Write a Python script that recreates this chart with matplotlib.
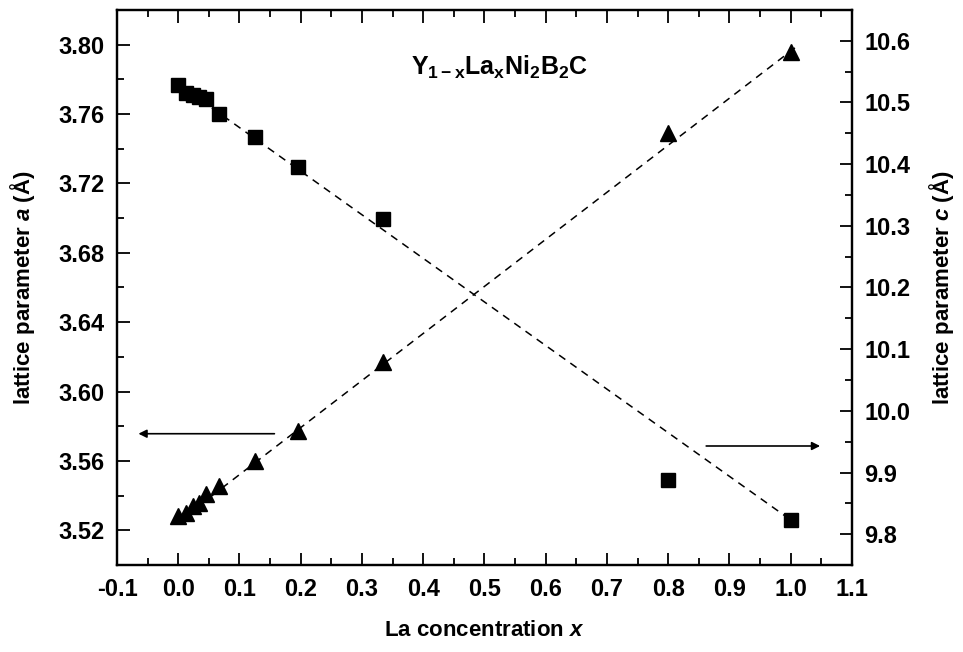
import matplotlib
matplotlib.use("Agg")
import matplotlib.pyplot as plt
from matplotlib.ticker import MultipleLocator


# La concentration x for each sample
x_sq = [0.0, 0.012, 0.024, 0.034, 0.045, 0.067, 0.125, 0.195, 0.335, 0.8, 1.0]
c_sq = [10.528, 10.515, 10.512, 10.509, 10.506, 10.481, 10.444, 10.395, 10.311, 9.888, 9.823]

x_tri = [0.0, 0.012, 0.024, 0.034, 0.045, 0.067, 0.125, 0.195, 0.335, 0.8, 1.0]
a_tri = [3.528, 3.530, 3.534, 3.536, 3.541, 3.5455, 3.560, 3.577, 3.617, 3.749, 3.796]

# dashed linear fits (end points)
fit_x = [0.0, 1.01]
a_fit = [3.525, 3.799]
c_fit = [10.530, 9.816]

plt.rcParams["font.family"] = ["Liberation Sans", "DejaVu Sans"]
plt.rcParams["font.weight"] = "bold"
plt.rcParams["axes.labelweight"] = "bold"
plt.rcParams["font.size"] = 16
plt.rcParams["mathtext.fontset"] = "custom"
plt.rcParams["mathtext.rm"] = "Liberation Sans:bold"
plt.rcParams["mathtext.bf"] = "Liberation Sans:bold"
plt.rcParams["mathtext.it"] = "Liberation Sans:bold:italic"

fig = plt.figure(figsize=(9.63, 6.52), dpi=100)
ax = fig.add_axes([0.1215, 0.1334, 0.7632, 0.8513])
ax2 = ax.twinx()

# a on the left axis (triangles), c on the right axis (squares)
ax.plot(fit_x, a_fit, ls=(0, (5, 4)), color="black", lw=1.1)
ax.plot(x_tri, a_tri, "^", color="black", ms=12, ls="none")
ax2.plot(fit_x, c_fit, ls=(0, (5, 4)), color="black", lw=1.1)
ax2.plot(x_sq, c_sq, "s", color="black", ms=10, ls="none")

ax.set_xlim(-0.1, 1.1)
ax.set_ylim(3.50, 3.82)
ax2.set_ylim(9.75, 10.65)

ax.xaxis.set_major_locator(MultipleLocator(0.1))
ax.xaxis.set_minor_locator(MultipleLocator(0.05))
ax.yaxis.set_major_locator(MultipleLocator(0.04))
ax.yaxis.set_minor_locator(MultipleLocator(0.02))
ax2.yaxis.set_major_locator(MultipleLocator(0.1))
ax2.yaxis.set_minor_locator(MultipleLocator(0.05))
ax.yaxis.set_major_formatter(plt.FormatStrFormatter("%.2f"))
ax.xaxis.set_major_formatter(plt.FormatStrFormatter("%.1f"))
ax2.yaxis.set_major_formatter(plt.FormatStrFormatter("%.1f"))

ax.tick_params(axis="x", which="both", direction="in", top=True, pad=9)
ax.tick_params(axis="y", which="both", direction="in", right=False, pad=9)
ax2.tick_params(axis="y", which="both", direction="in", pad=9)
for a_ in (ax, ax2):
    a_.tick_params(which="major", length=9, width=1.3, labelsize=17)
    a_.tick_params(which="minor", length=5, width=1.3)
    for s in a_.spines.values():
        s.set_linewidth(1.6)

ax.set_xlabel("La concentration $x$", fontsize=16, labelpad=14)
ax.set_ylabel("lattice parameter $a$ (Å)", fontsize=16, labelpad=15)
ax2.set_ylabel("lattice parameter $c$ (Å)", fontsize=16, labelpad=12)

ax.text(0.521, 0.883, r"$\mathrm{Y_{1-x}La_xNi_2B_2C}$", transform=ax.transAxes,
        ha="center", va="baseline", fontsize=18)

# arrows showing which axis each series belongs to
ax.annotate("", xy=(-0.065, 3.5757), xytext=(0.157, 3.5757),
            arrowprops=dict(arrowstyle="-|>", color="black", lw=1.2,
                            mutation_scale=12, shrinkA=0, shrinkB=0))
ax2.annotate("", xy=(1.048, 9.943), xytext=(0.862, 9.943),
             arrowprops=dict(arrowstyle="-|>", color="black", lw=1.2,
                             mutation_scale=12, shrinkA=0, shrinkB=0))

fig.savefig("out.png", dpi=100)
plt.close()
